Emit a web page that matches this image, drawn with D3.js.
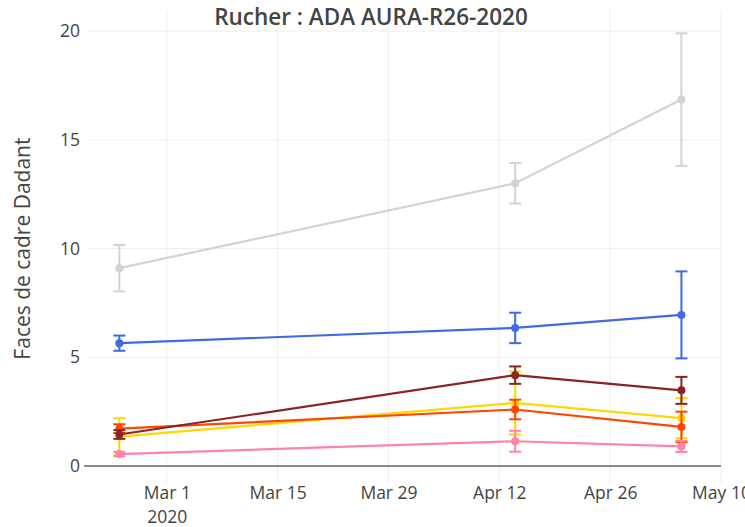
<!DOCTYPE html>
<html>
<head>
<meta charset="utf-8">
<script src="https://cdn.jsdelivr.net/npm/d3@7"></script>
<style>
  body { margin: 0; background: #fff; }
  svg { font-family: "Open Sans", sans-serif; display: block; }
</style>
</head>
<body>
<svg id="chart" width="745" height="527"></svg>
<script>
// relevés (dates des visites)
const dates = ["2020-02-24", "2020-04-14", "2020-05-05"];

// moyennes et écarts par série
const grayMean = [9.1, 13.0, 16.85];
const grayErr = [1.07, 0.93, 3.05];
const blueMean = [5.65, 6.35, 6.95];
const blueErr = [0.35, 0.7, 2.0];
const yellowMean = [1.35, 2.9, 2.2];
const yellowErr = [0.85, 1.45, 0.92];
const orangeMean = [1.72, 2.6, 1.8];
const orangeErr = [0.2, 0.45, 0.7];
const pinkMean = [0.55, 1.14, 0.9];
const pinkErr = [0.1, 0.48, 0.25];
const brownMean = [1.45, 4.18, 3.48];
const brownErr = [0.2, 0.4, 0.62];

const xTicks = ["2020-03-01", "2020-03-15", "2020-03-29", "2020-04-12", "2020-04-26", "2020-05-10"];
const xTickLabels = ["Mar 1", "Mar 15", "Mar 29", "Apr 12", "Apr 26", "May 10"];
const yearLabel = "2020";
const yTicks = [0, 5, 10, 15, 20];

const titleText = "Rucher : ADA AURA-R26-2020";
const yTitle = "Faces de cadre Dadant";

const series = [
    { mean: grayMean, err: grayErr, color: "#d3d3d3" },
    { mean: blueMean, err: blueErr, color: "#4169e1" },
    { mean: yellowMean, err: yellowErr, color: "#ffd700" },
    { mean: orangeMean, err: orangeErr, color: "#ff4500" },
    { mean: pinkMean, err: pinkErr, color: "#ff82ab" },
    { mean: brownMean, err: brownErr, color: "#8b2323" }
];

const svg = d3.select("#chart");
const plotLeft = 88, plotRight = 721, plotTop = 10, plotBottom = 483;
const radius = 4;
const cap = 6;
const tickFont = "17.5px";

const x = d3.scaleUtc()
    .domain([new Date(Date.UTC(2020, 1, 20, 1)), new Date(Date.UTC(2020, 4, 10))])
    .range([plotLeft, plotRight]);

const y = d3.scaleLinear()
    .domain([-0.78, 20.97])
    .range([plotBottom, plotTop]);

const parse = d3.utcParse("%Y-%m-%d");

// grilles
svg.append("g")
    .selectAll("line")
    .data(xTicks)
    .join("line")
    .attr("x1", d => x(parse(d)))
    .attr("x2", d => x(parse(d)))
    .attr("y1", plotTop)
    .attr("y2", plotBottom)
    .attr("stroke", "#eee")
    .attr("stroke-width", 1);

svg.append("g")
    .selectAll("line")
    .data(yTicks.filter(d => d !== 0))
    .join("line")
    .attr("x1", plotLeft)
    .attr("x2", plotRight)
    .attr("y1", d => y(d))
    .attr("y2", d => y(d))
    .attr("stroke", "#eee")
    .attr("stroke-width", 1);

// axe des x
const xAxis = d3.axisBottom(x)
    .tickValues(xTicks.map(parse))
    .tickFormat((d, i) => xTickLabels[i])
    .tickSize(0)
    .tickPadding(4);

const gx = svg.append("g")
    .attr("transform", `translate(0,${plotBottom})`)
    .call(xAxis);
gx.select(".domain").remove();
gx.selectAll("text")
    .attr("fill", "#444")
    .style("font-size", tickFont)
    .style("font-family", "'Open Sans', sans-serif");
gx.select(".tick text")
    .append("tspan")
    .attr("x", 0)
    .attr("dy", "1.35em")
    .text(yearLabel);

// axe des y
const yAxis = d3.axisLeft(y)
    .tickValues(yTicks)
    .tickSize(0)
    .tickPadding(8);

const gy = svg.append("g")
    .attr("transform", `translate(${plotLeft},0)`)
    .call(yAxis);
gy.select(".domain").remove();
gy.selectAll("text")
    .attr("fill", "#444")
    .style("font-size", tickFont)
    .style("font-family", "'Open Sans', sans-serif");

// ligne du zéro
svg.append("line")
    .attr("x1", plotLeft - 4)
    .attr("x2", plotRight)
    .attr("y1", y(0))
    .attr("y2", y(0))
    .attr("stroke", "#8c8c8c")
    .attr("stroke-width", 2);

// séries
const line = d3.line()
    .x((d, i) => x(parse(dates[i])))
    .y(d => y(d));

series.forEach(s => {
    const g = svg.append("g");
    const pts = s.mean.map((m, i) => ({ x: x(parse(dates[i])), m: m, e: s.err[i] }));

    const bars = g.selectAll(".err")
        .data(pts)
        .join("g")
        .attr("stroke", s.color)
        .attr("stroke-width", 2);
    bars.append("line")
        .attr("x1", d => d.x).attr("x2", d => d.x)
        .attr("y1", d => y(d.m - d.e)).attr("y2", d => y(d.m + d.e));
    bars.append("line")
        .attr("x1", d => d.x - cap).attr("x2", d => d.x + cap)
        .attr("y1", d => y(d.m + d.e)).attr("y2", d => y(d.m + d.e));
    bars.append("line")
        .attr("x1", d => d.x - cap).attr("x2", d => d.x + cap)
        .attr("y1", d => y(d.m - d.e)).attr("y2", d => y(d.m - d.e));

    g.append("path")
        .datum(s.mean)
        .attr("d", line)
        .attr("fill", "none")
        .attr("stroke", s.color)
        .attr("stroke-width", 2.2);

    g.selectAll("circle")
        .data(pts)
        .join("circle")
        .attr("cx", d => d.x)
        .attr("cy", d => y(d.m))
        .attr("r", radius)
        .attr("fill", s.color);
});

// titres
svg.append("text")
    .attr("x", 371)
    .attr("y", 25)
    .attr("text-anchor", "middle")
    .attr("fill", "#444")
    .style("font-size", "22.5px")
    .style("font-weight", "600")
    .text(titleText);

svg.append("text")
    .attr("transform", `translate(30,${(y(0) + y(20)) / 2}) rotate(-90)`)
    .attr("text-anchor", "middle")
    .attr("fill", "#444")
    .style("font-size", "21px")
    .text(yTitle);
</script>
</body>
</html>
